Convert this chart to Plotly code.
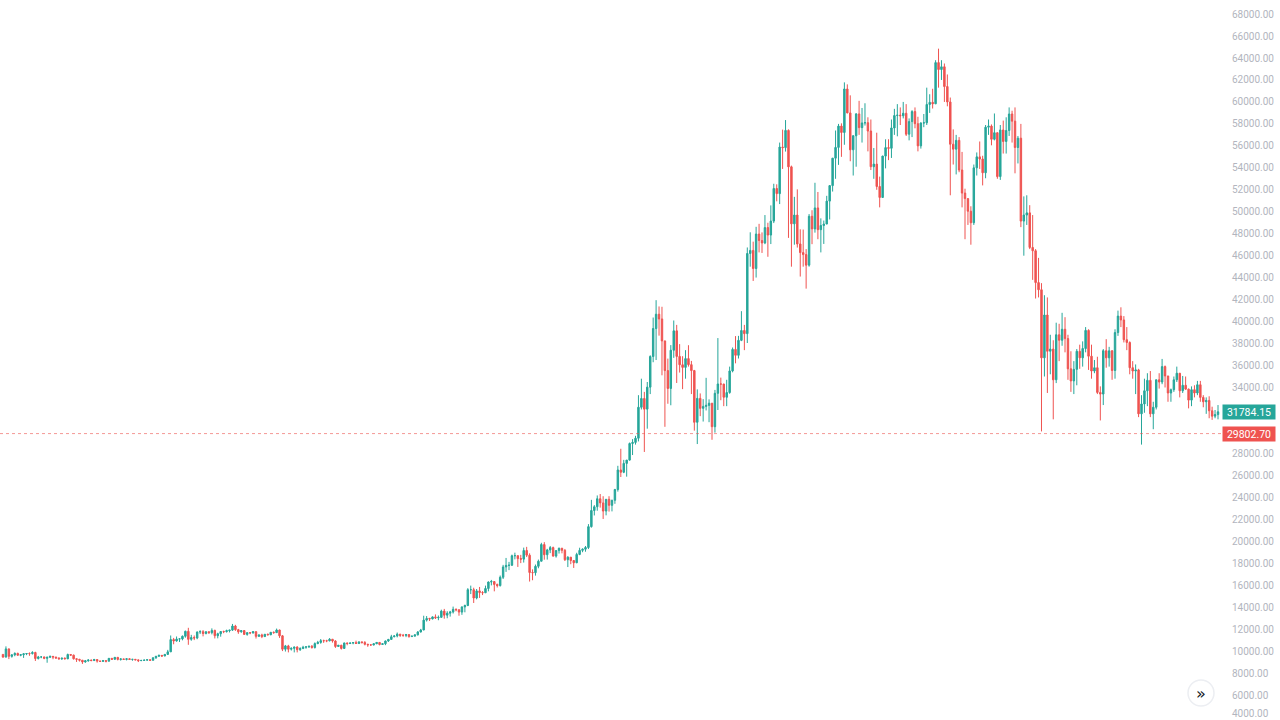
import pandas as pd
import plotly.graph_objects as go

# ---------------- data (BTC/USD daily) ----------------
start_date = "2020-05-31"
first_open = 9700

closes = [
    9450,  # May 31 2020
    # Jun 2020
    10200, 9520, 9660, 9790, 9620, 9670, 9750, 9780, 9770, 9870, 9320, 9470, 9470, 9340, 9430, 9520, 9460, 9380, 9300, 9360, 9290, 9690, 9630, 9300, 9250, 9170, 9010, 9120, 9190, 9140,
    # Jul 2020
    9230, 9090, 9060, 9130, 9080, 9340, 9250, 9430, 9240, 9290, 9240, 9300, 9240, 9250, 9200, 9130, 9150, 9180, 9210, 9160, 9390, 9530, 9610, 9550, 9700, 9930, 11050, 10920, 11100, 11110, 11350,
    # Aug 2020
    11800, 11070, 11230, 11190, 11740, 11770, 11600, 11760, 11680, 11880, 11400, 11580, 11780, 11770, 11860, 11910, 12280, 11950, 11750, 11870, 11520, 11680, 11650, 11770, 11340, 11470, 11320, 11530, 11480, 11710, 11680,
    # Sep 2020
    11920, 11390, 10170, 10470, 10170, 10250, 10370, 10130, 10230, 10350, 10390, 10440, 10330, 10680, 10790, 10950, 10940, 10930, 11080, 10920, 10420, 10530, 10240, 10740, 10690, 10730, 10770, 10690, 10840, 10780,
    # Oct 2020
    10620, 10570, 10550, 10670, 10790, 10600, 10670, 10920, 11060, 11300, 11380, 11540, 11430, 11430, 11500, 11320, 11360, 11480, 11740, 11920, 12820, 12970, 12930, 13110, 13030, 13070, 13640, 13270, 13450, 13560, 13800,
    # Nov 2020
    13760, 13550, 14020, 14150, 15590, 15590, 14830, 15480, 15330, 15310, 15700, 16290, 16330, 16070, 15960, 16720, 17660, 17800, 17820, 18680, 18690, 18420, 18370, 19160, 18730, 17150, 17140, 17720, 18180, 19700,
    # Dec 2020
    18770, 19210, 19420, 18650, 19150, 19360, 19170, 18320, 18550, 18250, 18040, 18800, 19170, 19280, 19430, 21330, 22800, 23140, 23870, 23490, 22750, 23820, 23270, 23730, 24710, 26490, 26280, 27090, 27390, 28900, 29000,
    # Jan 2021
    29380, 32200, 33000, 32030, 34030, 36820, 39370, 40670, 40240, 38240, 35540, 33910, 37390, 39160, 36830, 36070, 35830, 36630, 36080, 35540, 30830, 33010, 32100, 32280, 32370, 32570, 30430, 33470, 34320, 34310, 33110,
    # Feb 2021
    33540, 35510, 37470, 36930, 38290, 39190, 38900, 46200, 46480, 44830, 47970, 47380, 47160, 48560, 47880, 49150, 52120, 51650, 55890, 55840, 57410, 54090, 48900, 49700, 47070, 46280, 46100, 45140,
    # Mar 2021
    49590, 48440, 50350, 48370, 48750, 48880, 50970, 52380, 54880, 55860, 57800, 57220, 61180, 59000, 55640, 56920, 58910, 57660, 58090, 58110, 57350, 54100, 54340, 52300, 51300, 55070, 55840, 55780, 57630, 58760, 58800,
    # Apr 2021
    58740, 58970, 57060, 58210, 59120, 58020, 56000, 58080, 58100, 59770, 59960, 59830, 63580, 62950, 63200, 61400, 60000, 56150, 55700, 56500, 53800, 51700, 51200, 50050, 49000, 54000, 55000, 54800, 53550, 57700,
    # May 2021
    57800, 56600, 57200, 53200, 57450, 56400, 57400, 58900, 58250, 55850, 56700, 49150, 49700, 49900, 46750, 46450, 43550, 42900, 36700, 40600, 37300, 37500, 34700, 38800, 38300, 39300, 38450, 35700, 34600, 35650, 37300,
    # Jun 2021
    36700, 37550, 39200, 36850, 35500, 35800, 33550, 33400, 37350, 36700, 37340, 35550, 39000, 40500, 40150, 38350, 38100, 35800, 35500, 35600, 31600, 32500, 33700, 34650, 31600, 32200, 34700, 34500, 35900, 35050,
    # Jul 2021
    33500, 33800, 34700, 35300, 33700, 34200, 33850, 32850, 33800, 33500, 34250, 33100, 32700, 32820, 31880, 31390, 31530, 31784.15,
]

highs = [
    9700,
    10430, 10230, 9690, 9880, 9850, 9730, 9800, 9800, 9880, 9990, 9940, 9560, 9490, 9480, 9500, 9580, 9550, 9470, 9400, 9380, 9410, 9770, 9700, 9680, 9320, 9290, 9190, 9190, 9230, 9200,
    9290, 9260, 9130, 9190, 9140, 9360, 9360, 9460, 9440, 9310, 9300, 9340, 9340, 9280, 9270, 9210, 9190, 9200, 9230, 9220, 9430, 9540, 9670, 9630, 9730, 10110, 11420, 11200, 11330, 11180, 11420,
    11860, 12120, 11480, 11420, 11780, 11900, 11910, 11800, 11800, 12070, 11950, 11670, 11800, 11860, 11950, 11920, 12470, 12390, 12020, 11890, 11890, 11690, 11710, 11810, 11770, 11520, 11580, 11540, 11590, 11720, 11790,
    12050, 11950, 11460, 10560, 10570, 10340, 10400, 10440, 10350, 10480, 10410, 10480, 10550, 10790, 10930, 11100, 11040, 11030, 11180, 11080, 10990, 10560, 10570, 10760, 10770, 10790, 10800, 10950, 10860, 10840,
    10910, 10660, 10600, 10690, 10800, 10800, 10690, 10960, 11110, 11480, 11440, 11690, 11560, 11560, 11560, 11540, 11400, 11500, 11820, 12020, 13220, 13190, 13030, 13160, 13340, 13240, 13770, 13840, 13630, 13660, 14050,
    13890, 13810, 14070, 14230, 15730, 15960, 15770, 15650, 15840, 15460, 15960, 16340, 16480, 16330, 16140, 16880, 17850, 18480, 18120, 18780, 18960, 18690, 18760, 19420, 19490, 18900, 17440, 17880, 18330, 19860,
    19920, 19310, 19570, 19510, 19180, 19420, 19400, 19300, 18640, 18560, 18270, 18950, 19410, 19350, 19570, 21560, 23770, 23290, 24170, 24300, 24100, 23840, 24100, 23780, 24770, 26870, 28420, 27410, 27390, 28990, 29300,
    29600, 33300, 34800, 33600, 34500, 36930, 40370, 41950, 41380, 41350, 38260, 36630, 37860, 40100, 39700, 37950, 36850, 37400, 37850, 36420, 35600, 33830, 33460, 32940, 34880, 32920, 32570, 33780, 38500, 34900, 34340,
    34700, 35900, 37640, 38680, 38700, 40950, 39700, 46750, 48130, 47280, 48630, 48900, 48120, 49700, 49000, 50580, 52550, 52500, 56300, 57480, 58350, 57500, 54200, 51360, 52040, 48400, 48380, 46600,
    49790, 50140, 52640, 51800, 49400, 49200, 51450, 52400, 54900, 57400, 58000, 58050, 61780, 61600, 60600, 56970, 58980, 60100, 59450, 59880, 58600, 58400, 55800, 57200, 53200, 55100, 56600, 56600, 58400, 59370, 59800,
    59500, 60000, 59800, 58500, 59250, 59500, 58650, 58150, 58900, 61300, 60700, 61200, 63800, 64850, 63800, 63500, 62500, 60400, 57500, 57000, 56800, 55450, 52100, 51200, 50500, 54300, 55400, 56400, 55100, 57900,
    58400, 57950, 58950, 57200, 57900, 58300, 58600, 59500, 59200, 59500, 56900, 58000, 51400, 51500, 50600, 49700, 46600, 45800, 43500, 42400, 42200, 38800, 38300, 39900, 39800, 40800, 40400, 38800, 37300, 36400, 37500,
    37900, 38200, 39500, 39300, 37900, 36500, 36800, 34100, 37500, 38400, 37700, 37400, 39300, 41000, 41300, 40500, 39500, 38200, 36400, 36100, 35700, 33300, 34800, 35300, 35500, 32700, 34700, 35300, 36600, 36000,
    35050, 33900, 35000, 35900, 35300, 35050, 35000, 33900, 34100, 34200, 34600, 34600, 33300, 33100, 33200, 32250, 31950, 32400,
]

lows = [
    9400,
    9420, 9270, 9400, 9530, 9590, 9530, 9380, 9630, 9570, 9690, 9100, 9240, 9350, 9260, 8940, 9380, 9260, 9280, 9210, 9190, 9280, 9280, 9580, 9230, 9010, 9050, 8830, 8940, 9030, 9070,
    9090, 8950, 9050, 9050, 8970, 9060, 9200, 9230, 9150, 9130, 9190, 9150, 9200, 9120, 9170, 9000, 9090, 9120, 9120, 9130, 9150, 9290, 9470, 9470, 9540, 9670, 9920, 10620, 10860, 10830, 10980,
    11220, 10570, 10940, 11000, 11080, 11550, 11340, 11520, 11560, 11520, 11150, 11160, 11310, 11630, 11690, 11700, 11830, 11840, 11570, 11680, 11480, 11400, 11540, 11600, 11140, 11300, 11180, 11280, 11440, 11460, 11580,
    11670, 11200, 10000, 9960, 9880, 10050, 9880, 9880, 10010, 10180, 10210, 10280, 10220, 10230, 10630, 10670, 10750, 10810, 10890, 10770, 10290, 10370, 10140, 10200, 10530, 10640, 10620, 10650, 10640, 10680,
    10520, 10390, 10510, 10530, 10630, 10520, 10580, 10540, 10830, 11060, 11270, 11250, 11290, 11300, 11270, 11220, 11300, 11340, 11420, 11690, 11900, 12690, 12740, 12890, 12920, 12810, 13060, 12950, 12990, 13140, 13420,
    13620, 13220, 13300, 13530, 14090, 15190, 14380, 14710, 14840, 15100, 15280, 15440, 15980, 15440, 15790, 15880, 16560, 17210, 17370, 17750, 18350, 17660, 18010, 18060, 18560, 16330, 16450, 16870, 17540, 18180,
    18320, 18330, 18920, 18600, 18510, 18880, 18900, 18200, 17650, 17910, 17570, 18010, 18730, 19000, 19050, 19290, 21240, 22350, 22780, 23060, 22030, 22360, 22700, 22720, 23410, 24520, 25850, 26200, 25880, 27340, 27850,
    28800, 29090, 32000, 28130, 30250, 33400, 36300, 36500, 38720, 35110, 30420, 32520, 32380, 36700, 34410, 35360, 33850, 34800, 35900, 33400, 30070, 28850, 31390, 30900, 31910, 30840, 29240, 29890, 31950, 32840, 32300,
    32300, 33430, 35380, 36200, 36640, 38220, 37400, 38050, 45000, 43700, 44010, 46300, 46250, 47050, 45900, 47060, 48970, 50950, 50700, 53900, 55480, 47620, 45000, 47000, 46740, 44100, 45000, 43000,
    45000, 47050, 48100, 47500, 46300, 47070, 48900, 49300, 51840, 53000, 54270, 55000, 56100, 58970, 54600, 53300, 54100, 57000, 56300, 57850, 55500, 53800, 53000, 52000, 50400, 51300, 53950, 54700, 54900, 57000, 56870,
    57900, 58500, 56900, 56500, 56800, 57600, 55500, 55750, 57700, 57900, 59000, 59400, 59800, 61300, 62000, 60000, 59600, 51500, 54300, 53400, 53600, 50400, 47500, 48800, 47000, 48800, 53300, 53900, 52400, 53050,
    57000, 56050, 56500, 53000, 52900, 55300, 55300, 56900, 56300, 53500, 54400, 48600, 46000, 48800, 46600, 43800, 42100, 42200, 30000, 35000, 33500, 35200, 31100, 34400, 36400, 37800, 37200, 34700, 33600, 33400, 34200,
    35700, 35900, 37200, 35600, 34800, 35300, 33400, 31000, 32400, 35800, 35900, 34700, 34800, 38700, 39500, 38100, 37400, 35200, 34800, 33400, 31300, 28800, 31700, 32300, 31300, 30200, 32000, 33900, 34300, 34000,
    32700, 32700, 33600, 34500, 33100, 33500, 33800, 32100, 32300, 33100, 33300, 32700, 32200, 31600, 31200, 31050, 31200, 31100,
]

last_price = 31784.15
line_price = 29802.70

# price-scale labels shown on the right (30000 / 32000 are hidden behind the price tags)
tick_values = [v for v in range(4000, 68001, 2000) if v not in (30000, 32000)]

# ---------------- build ----------------
n = min(len(closes), len(highs), len(lows))
closes, highs, lows = closes[:n], highs[:n], lows[:n]
opens = [first_open] + closes[:-1]
highs = [max(h, o, c) for h, o, c in zip(highs, opens, closes)]
lows = [min(l, o, c) for l, o, c in zip(lows, opens, closes)]
dates = pd.date_range(start_date, periods=n, freq="D")

UP = "#26a69a"
DOWN = "#ef5350"
AXIS_TXT = "#b2b5be"

fig = go.Figure()
fig.add_trace(go.Candlestick(
    x=dates, open=opens, high=highs, low=lows, close=closes,
    increasing=dict(line=dict(color=UP, width=1), fillcolor=UP),
    decreasing=dict(line=dict(color=DOWN, width=1), fillcolor=DOWN),
    whiskerwidth=0, showlegend=False,
))

W, H = 1280, 720
plot_w = 1222
px_per_day = (1218 - 3) / (n - 1)
x0 = dates[0] - pd.Timedelta(days=3 / px_per_day)
x1 = x0 + pd.Timedelta(days=plot_w / px_per_day)

shown_ticks = [v for v in tick_values if v > 4000]

fig.update_layout(
    width=W, height=H,
    margin=dict(l=0, r=W - plot_w, t=0, b=0),
    paper_bgcolor="white", plot_bgcolor="white",
    font=dict(family="Roboto, Lato, sans-serif", size=10, color=AXIS_TXT),
    xaxis=dict(visible=False, range=[x0, x1], rangeslider=dict(visible=False), showgrid=False),
    yaxis=dict(side="right", range=[3725, 69281], tickmode="array",
               tickvals=shown_ticks, ticktext=[f"{v:.2f}" for v in shown_ticks],
               showgrid=False, zeroline=False, ticks="", showline=False,
               ticklabelstandoff=9, tickfont=dict(size=10, color=AXIS_TXT)),
    hovermode=False,
)

# lowest scale label, kept just inside the bottom edge
fig.add_annotation(xref="paper", x=1, xanchor="left", xshift=9, yref="paper", y=0,
                   yanchor="bottom", text=f"{tick_values[0]:.2f}", showarrow=False, borderpad=0,
                   font=dict(size=10, color=AXIS_TXT, family="Roboto, Lato, sans-serif"))

# dotted price line
fig.add_shape(type="line", xref="paper", x0=0, x1=1, yref="y", y0=line_price, y1=line_price,
              line=dict(color="rgba(239,83,80,0.6)", width=1, dash="dot"))

# price labels on the axis
for price, col in [(last_price, UP), (line_price, DOWN)]:
    fig.add_annotation(xref="paper", x=1, xanchor="left", yref="y", y=price, yanchor="middle",
                       text=f"{price:.2f}", showarrow=False, bgcolor=col, borderpad=1,
                       width=50, height=12, align="center",
                       font=dict(size=10.5, color="white", family="Roboto, sans-serif"))

# scroll-to-realtime button
cx, cy, r = 1201, 693, 13
fig.add_shape(type="circle", xref="paper", yref="paper",
              x0=(cx - r) / plot_w, x1=(cx + r) / plot_w,
              y0=1 - (cy + r) / H, y1=1 - (cy - r) / H,
              fillcolor="white", line=dict(color="#eceef2", width=1.5))
fig.add_annotation(xref="paper", yref="paper", x=cx / plot_w, y=1 - cy / H,
                   text="»", showarrow=False, xanchor="center", yanchor="middle",
                   font=dict(size=16, color="#131722", family="DejaVu Sans"))

fig.write_html("out.html")
